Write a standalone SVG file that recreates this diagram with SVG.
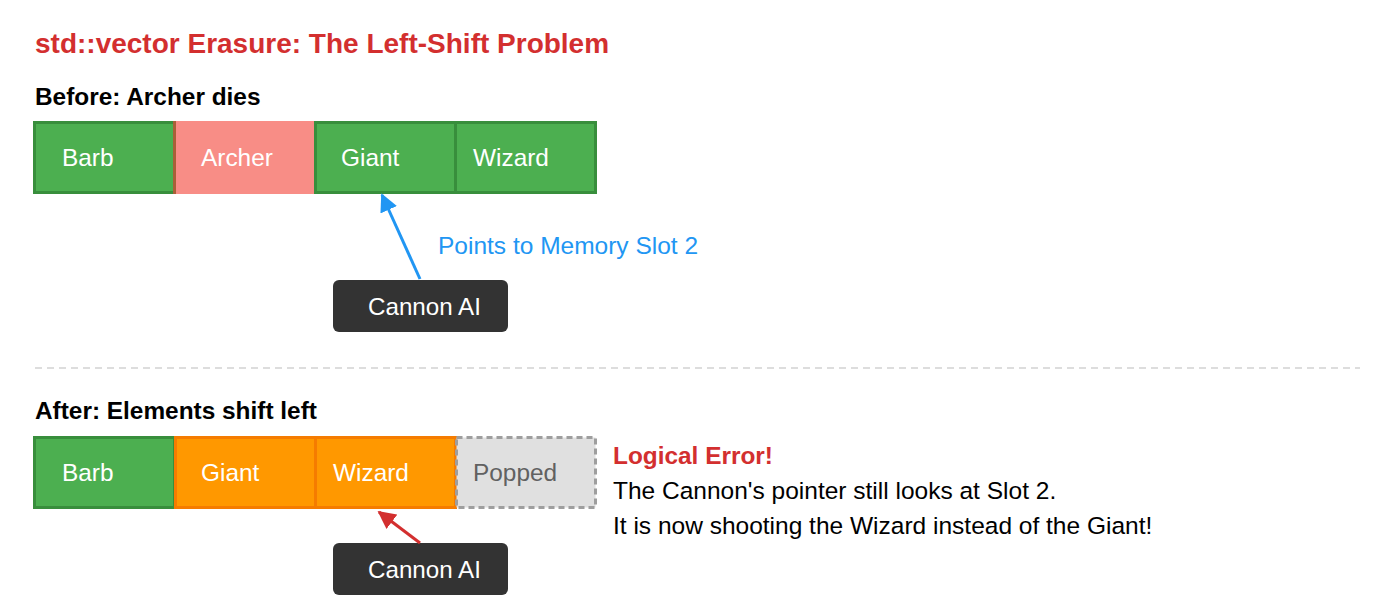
<svg xmlns="http://www.w3.org/2000/svg" width="1400" height="613" viewBox="0 0 1400 613">
<defs>
<style>
text{font-family:"Liberation Sans",Arial,sans-serif;}
.title{font-size:28px;font-weight:bold;fill:#D32F2F;}
.h{font-size:24.4px;font-weight:bold;fill:#000;}
.cell{font-size:24.4px;fill:#fff;}
.green{fill:#4CAF50;stroke:#388E3C;stroke-width:3;}
.dead{fill:#F44336;stroke:#F44336;stroke-width:3;opacity:0.6;}
.orange{fill:#FF9800;stroke:#F57C00;stroke-width:3;}
.popped{fill:#E0E0E0;stroke:#9E9E9E;stroke-width:3;stroke-dasharray:6,4;}
.ai{fill:#333;}
.ailabel{font-size:24.2px;fill:#fff;}
.body{font-size:24.5px;fill:#000;}
</style>
<marker id="ab" viewBox="0 0 10 10" refX="9" refY="5" markerWidth="6" markerHeight="6" orient="auto" markerUnits="strokeWidth"><path d="M0,0 L10,5 L0,10 z" fill="#2196F3"/></marker>
<marker id="ar" viewBox="0 0 10 10" refX="9" refY="5" markerWidth="6" markerHeight="6" orient="auto" markerUnits="strokeWidth"><path d="M0,0 L10,5 L0,10 z" fill="#D32F2F"/></marker>
</defs>
<rect width="1400" height="613" fill="#fff"/>
<text class="title" x="35" y="53">std::vector Erasure: The Left-Shift Problem</text>
<text class="h" x="35" y="105">Before: Archer dies</text>
<g id="before-barb"><rect class="green" x="34.5" y="122.5" width="140" height="70"/><text class="cell" x="62" y="166">Barb</text></g>
<g id="before-archer"><rect class="dead" x="174.5" y="122.5" width="140" height="70"/><text class="cell" x="201" y="166">Archer</text></g>
<g id="before-giant"><rect class="green" x="315.5" y="122.5" width="140" height="70"/><text class="cell" x="341" y="166">Giant</text></g>
<g id="before-wizard"><rect class="green" x="455.5" y="122.5" width="140" height="70"/><text class="cell" x="473" y="166">Wizard</text></g>
<g id="cannon-before"><rect class="ai" x="333" y="280" width="175" height="52" rx="6"/><text class="ailabel" x="368" y="315">Cannon AI</text></g>
<line x1="35" y1="368" x2="1360" y2="368" stroke="#ddd" stroke-width="2" stroke-dasharray="7,5"/>
<text class="h" x="35" y="419">After: Elements shift left</text>
<g id="after-barb"><rect class="green" x="34.5" y="437.5" width="140" height="70"/><text class="cell" x="62" y="481">Barb</text></g>
<g id="after-giant"><rect class="orange" x="175.5" y="437.5" width="140" height="70"/><text class="cell" x="201" y="481">Giant</text></g>
<g id="after-wizard"><rect class="orange" x="315.5" y="437.5" width="140" height="70"/><text class="cell" x="333" y="481">Wizard</text></g>
<g id="after-popped"><rect class="popped" x="456.5" y="437.5" width="139" height="70"/><text class="cell" x="473" y="481" style="fill:#616161">Popped</text></g>
<g id="cannon-after"><rect class="ai" x="333" y="543" width="175" height="52" rx="6"/><text class="ailabel" x="368" y="578">Cannon AI</text></g>
<g id="connectors">
<line x1="420" y1="279" x2="382" y2="195" stroke="#2196F3" stroke-width="3" marker-end="url(#ab)"/>
<line x1="420" y1="543" x2="379" y2="512" stroke="#D32F2F" stroke-width="3" marker-end="url(#ar)"/>
</g>
<text x="438" y="254" style="font-size:24.5px;fill:#2196F3">Points to Memory Slot 2</text>
<g id="error-note">
<text x="613" y="464" style="font-size:24.4px;font-weight:bold;fill:#D32F2F">Logical Error!</text>
<text class="body" x="613" y="499">The Cannon's pointer still looks at Slot 2.</text>
<text class="body" x="613" y="534">It is now shooting the Wizard instead of the Giant!</text>
</g>
</svg>
